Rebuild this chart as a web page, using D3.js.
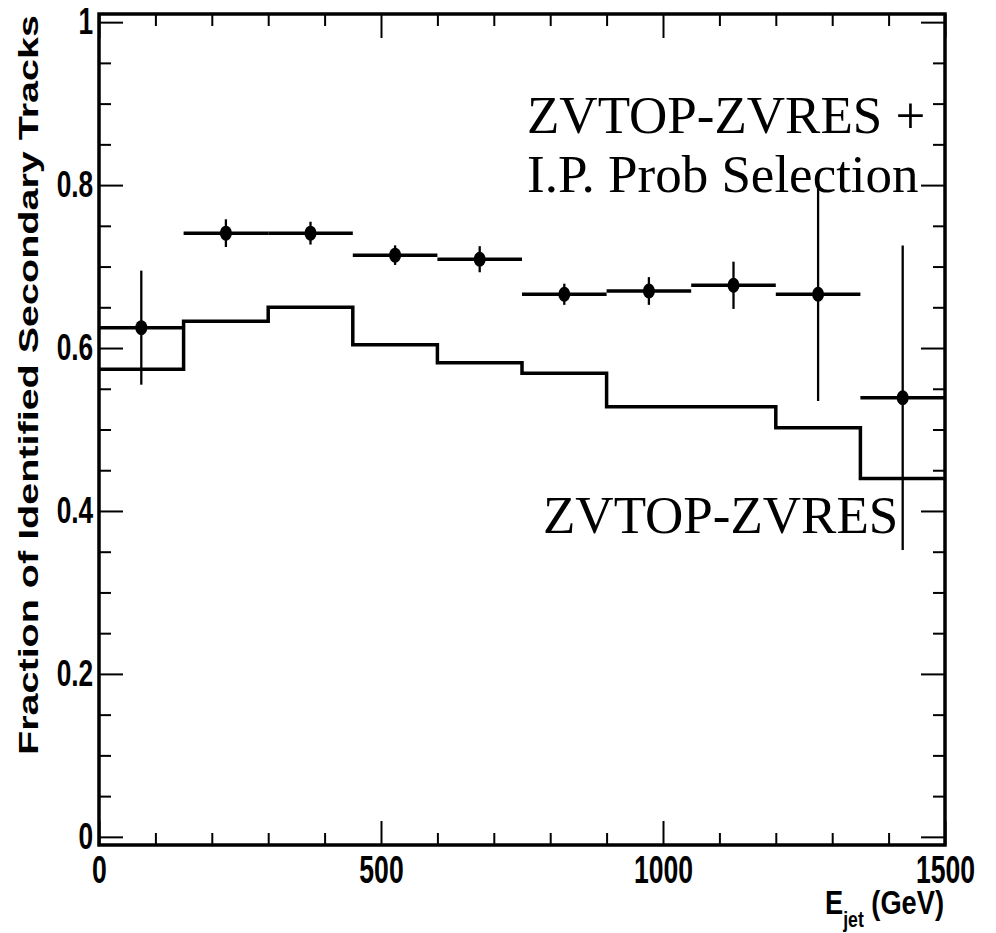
<!DOCTYPE html>
<html>
<head>
<meta charset="utf-8">
<script src="https://cdn.jsdelivr.net/npm/d3@7"></script>
<style>
  body { margin: 0; background: #fff; }
  .tick line { stroke: #000; stroke-width: 2; }
</style>
</head>
<body>
<div id="chart"></div>
<script>
// E_jet bin edges (GeV)
var binEdges = [0, 150, 300, 450, 600, 750, 900, 1050, 1200, 1350, 1500];

// ZVTOP-ZVRES (histogram)
var zvresValues = [0.574, 0.633, 0.650, 0.604, 0.582, 0.569, 0.528, 0.528, 0.502, 0.440];

// ZVTOP-ZVRES + I.P. Prob Selection (points with errors)
var ipValues = [0.625, 0.741, 0.741, 0.714, 0.709, 0.666, 0.670, 0.677, 0.666, 0.539];
var ipErrors = [0.070, 0.017, 0.014, 0.012, 0.016, 0.013, 0.017, 0.029, 0.131, 0.187];

// tick labels
var xTicks = [0, 500, 1000, 1500];
var xTickLabels = ["0", "500", "1000", "1500"];
var yTicks = [0, 0.2, 0.4, 0.6, 0.8, 1];
var yTickLabels = ["0", "0.2", "0.4", "0.6", "0.8", "1"];

var width = 996, height = 933;
var sansFont = "'Liberation Sans', Arial, sans-serif";
var serifFont = "'Liberation Serif', 'Times New Roman', serif";

var svg = d3.select("#chart")
  .append("svg")
  .attr("width", width)
  .attr("height", height);

// scales
var x = d3.scaleLinear()
  .domain([0, 1500])
  .range([99, 945]);

var y = d3.scaleLinear()
  .domain([-0.01, 1.01])
  .range([845, 14]);

var xMinor = d3.range(0, 1501, 100).filter(d => xTicks.indexOf(d) < 0);
var yMinor = d3.range(0, 1.001, 0.05).filter(d => Math.abs(Math.round(d * 5) - d * 5) > 1e-6);

// axes (ticks point inward, on all four sides)
function styleAxis(g) {
  g.select(".domain").remove();
  g.selectAll("text")
    .style("font-family", sansFont)
    .style("font-weight", "bold")
    .attr("fill", "#000");
}

// left
svg.append("g")
  .attr("transform", "translate(" + x(0) + ",0)")
  .call(d3.axisLeft(y).tickValues(yTicks).tickSize(-24).tickPadding(8)
    .tickFormat((d, i) => yTickLabels[i]))
  .call(styleAxis)
  .call(g => g.selectAll("text")
    .style("font-size", "36px")
    .attr("transform", "scale(0.73,1)"));

svg.append("g")
  .attr("transform", "translate(" + x(0) + ",0)")
  .call(d3.axisLeft(y).tickValues(yMinor).tickSize(-12).tickFormat(""))
  .call(styleAxis);

// right
svg.append("g")
  .attr("transform", "translate(" + x(1500) + ",0)")
  .call(d3.axisRight(y).tickValues(yTicks).tickSize(-24).tickFormat(""))
  .call(styleAxis);

svg.append("g")
  .attr("transform", "translate(" + x(1500) + ",0)")
  .call(d3.axisRight(y).tickValues(yMinor).tickSize(-12).tickFormat(""))
  .call(styleAxis);

// bottom
svg.append("g")
  .attr("transform", "translate(0," + y(-0.01) + ")")
  .call(d3.axisBottom(x).tickValues(xTicks).tickSize(-24).tickPadding(11)
    .tickFormat((d, i) => xTickLabels[i]))
  .call(styleAxis)
  .call(g => g.selectAll("text")
    .style("font-size", "38px")
    .attr("transform", "scale(0.7,1)"));

svg.append("g")
  .attr("transform", "translate(0," + y(-0.01) + ")")
  .call(d3.axisBottom(x).tickValues(xMinor).tickSize(-12).tickFormat(""))
  .call(styleAxis);

// top
svg.append("g")
  .attr("transform", "translate(0," + y(1.01) + ")")
  .call(d3.axisTop(x).tickValues(xTicks).tickSize(-24).tickFormat(""))
  .call(styleAxis);

svg.append("g")
  .attr("transform", "translate(0," + y(1.01) + ")")
  .call(d3.axisTop(x).tickValues(xMinor).tickSize(-12).tickFormat(""))
  .call(styleAxis);

// frame
svg.append("rect")
  .attr("x", x(0))
  .attr("y", y(1.01))
  .attr("width", x(1500) - x(0))
  .attr("height", y(-0.01) - y(1.01))
  .attr("fill", "none")
  .attr("stroke", "#000")
  .attr("stroke-width", 3.5);

// ZVTOP-ZVRES histogram
var histPoints = binEdges.map((e, i) => [e, zvresValues[Math.min(i, zvresValues.length - 1)]]);

svg.append("path")
  .datum(histPoints)
  .attr("fill", "none")
  .attr("stroke", "#000")
  .attr("stroke-width", 3.5)
  .attr("d", d3.line()
    .x(d => x(d[0]))
    .y(d => y(d[1]))
    .curve(d3.curveStepAfter));

// points with error bars
var points = ipValues.map((v, i) => ({
  lo: binEdges[i],
  hi: binEdges[i + 1],
  mid: (binEdges[i] + binEdges[i + 1]) / 2,
  v: v,
  err: ipErrors[i]
}));

var gdots = svg.selectAll("g.dot")
  .data(points)
  .enter()
  .append("g")
  .attr("class", "dot");

gdots.append("line")
  .attr("x1", d => x(d.lo))
  .attr("x2", d => x(d.hi))
  .attr("y1", d => y(d.v))
  .attr("y2", d => y(d.v))
  .attr("stroke", "#000")
  .attr("stroke-width", 3.5);

gdots.append("line")
  .attr("x1", d => x(d.mid))
  .attr("x2", d => x(d.mid))
  .attr("y1", d => y(d.v - d.err))
  .attr("y2", d => y(d.v + d.err))
  .attr("stroke", "#000")
  .attr("stroke-width", 2.3);

gdots.append("ellipse")
  .attr("cx", d => x(d.mid))
  .attr("cy", d => y(d.v))
  .attr("rx", 6)
  .attr("ry", 7.5)
  .attr("fill", "#000");

// y label
svg.append("text")
  .attr("transform", "translate(38,755) rotate(-90)")
  .attr("text-anchor", "start")
  .attr("textLength", 740)
  .attr("lengthAdjust", "spacingAndGlyphs")
  .style("font-family", sansFont)
  .style("font-weight", "bold")
  .style("font-size", "28px")
  .text("Fraction of Identified Secondary Tracks");

// x label
var xLabel = svg.append("text")
  .attr("text-anchor", "end")
  .style("font-family", sansFont)
  .style("font-weight", "bold")
  .style("font-size", "34px");
xLabel.append("tspan").text("E");
xLabel.append("tspan").attr("dy", 13).style("font-size", "22px").text("jet");
xLabel.append("tspan").attr("dy", -13).text(" (GeV)");
var xLabelWidth = xLabel.node().getComputedTextLength();
xLabel.attr("transform", "translate(944,914) scale(" + (119 / xLabelWidth) + ",1)");

// annotations
svg.append("text")
  .attr("x", 527)
  .attr("y", 133)
  .style("font-family", serifFont)
  .style("font-size", "53px")
  .text("ZVTOP-ZVRES +");

svg.append("text")
  .attr("x", 527)
  .attr("y", 192)
  .style("font-family", serifFont)
  .style("font-size", "53px")
  .text("I.P. Prob Selection");

svg.append("text")
  .attr("x", 543)
  .attr("y", 533)
  .style("font-family", serifFont)
  .style("font-size", "53px")
  .text("ZVTOP-ZVRES");
</script>
</body>
</html>
